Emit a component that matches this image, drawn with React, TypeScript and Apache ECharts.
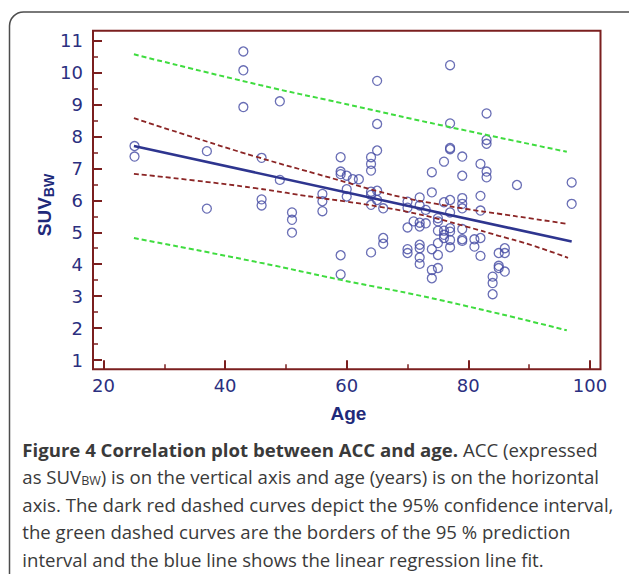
import React, { useEffect, useRef } from "react";
import * as echarts from "echarts";

// ---- data ----
const ages = [
  25.1, 25.1, 37, 37, 43, 43, 43, 46, 46, 46, 49, 49, 51, 51, 51, 56, 56, 56,
  59, 59, 59, 59, 59, 60, 60, 60, 61, 62,
  64, 64, 64, 64, 64, 64, 64, 65, 65, 65, 65, 65, 66, 66, 66,
  70, 70, 70, 70, 70, 71, 72, 72, 72, 72, 72, 72, 72, 72, 73, 73,
  74, 74, 74, 74, 74, 75, 75, 75, 75, 75, 75, 76, 76, 76, 76, 76,
  77, 77, 77, 77, 77, 77, 77, 77, 77, 77,
  79, 79, 79, 79, 79, 79, 79, 79, 81, 81, 82, 82, 82, 82, 82,
  83, 83, 83, 83, 83, 84, 84, 84, 85, 85, 85, 86, 86, 86, 88, 97, 97,
];
const suv = [
  7.7, 7.37, 7.54, 5.74, 10.66, 10.07, 8.92, 7.33, 6.03, 5.84, 9.1, 6.64, 5.62, 5.39, 4.99, 6.2, 5.97, 5.66,
  7.35, 6.9, 6.82, 4.28, 3.68, 6.77, 6.35, 6.12, 6.66, 6.66,
  7.35, 7.14, 6.93, 6.27, 6.17, 5.86, 4.37, 9.74, 8.39, 7.56, 6.3, 6.01, 5.75, 4.82, 4.64,
  5.96, 5.77, 5.15, 4.47, 4.35, 5.34, 6.09, 5.84, 5.3, 5.18, 4.61, 4.5, 4.21, 4.01, 5.7, 5.28,
  6.88, 6.25, 4.47, 3.82, 3.56, 5.44, 5.34, 5.05, 4.66, 4.29, 3.88, 7.21, 5.94, 5.05, 4.82, 4.92,
  10.23, 8.41, 7.64, 7.6, 6.01, 5.62, 5.13, 5.02, 4.76, 4.53,
  7.37, 6.77, 6.07, 5.89, 5.75, 5.1, 4.78, 4.73, 4.78, 4.55, 7.14, 6.14, 5.68, 4.82, 4.26,
  8.72, 7.89, 7.77, 6.9, 6.72, 3.61, 3.41, 3.06, 4.35, 3.95, 3.88, 4.5, 4.35, 3.77, 6.48, 6.56, 5.89,
];

const fitAges = [25, 97];
const fitValues = [7.7, 4.71];

const ciAges = [25, 35, 45, 55, 60, 65, 70, 75, 80, 85, 90, 96.4];
const ciUpper = [8.57, 7.96, 7.37, 6.83, 6.56, 6.29, 6.06, 5.88, 5.72, 5.58, 5.44, 5.26];
const ciLower = [6.83, 6.62, 6.38, 6.09, 5.96, 5.81, 5.64, 5.42, 5.16, 4.89, 4.62, 4.2];

const piAges = [25, 45.7, 59, 75.3, 96.2];
const piUpper = [10.57, 9.61, 9.05, 8.36, 7.52];
const piLower = [4.82, 4.05, 3.51, 2.88, 1.93];

const xMajor = [20, 40, 60, 80, 100];
const xMinor = [30, 50, 70, 90];
const yMajor = [1, 2, 3, 4, 5, 6, 7, 8, 9, 10, 11];
const yMinor = [1.5, 2.5, 3.5, 4.5, 5.5, 6.5, 7.5, 8.5, 9.5, 10.5];

const captionLines = [
  "{b|Figure 4 Correlation plot between ACC and age.} ACC (expressed",
  "as SUV{s|BW}) is on the vertical axis and age (years) is on the horizontal",
  "axis. The dark red dashed curves depict the 95% confidence interval,",
  "the green dashed curves are the borders of the 95 % prediction",
  "interval and the blue line shows the linear regression line fit.",
];

const AXIS = "#7b1f1f";
const LABEL = "#2b2f80";
const TITLE = "#1f2a7a";
const DOT = "#444aa2";
const BLUE = "#2e358f";
const RED = "#8b2525";
const GREEN = "#3fdc3f";

const pairs = (xs: number[], ys: number[]) => xs.map((x, i) => [x, ys[i]]);

export default function App() {
  const ref = useRef<HTMLDivElement>(null);
  useEffect(() => {
    if (!ref.current) return;
    const chart = echarts.init(ref.current, null, { renderer: "svg" });
    const xBase = { type: "value", min: 18.27, max: 101.74, gridIndex: 0, splitLine: { show: false }, axisLine: { show: false } };
    const yBase = { type: "value", min: 0.71, max: 11.31, gridIndex: 0, splitLine: { show: false }, axisLine: { show: false } };
    const labelStyle = { color: LABEL, fontSize: 18, fontFamily: "DejaVu Sans" };
    const captionRich = {
      b: { fontWeight: "bold", fontFamily: "Open Sans", fontSize: 18.6, color: "#262626" },
      s: { fontFamily: "Open Sans", fontSize: 12.5, color: "#3a3a3a", padding: [8, 0, 0, 0], verticalAlign: "bottom" },
    };
    chart.setOption({
      animation: false,
      grid: { left: 93, right: 28.5, top: 30.7, bottom: 204.7, show: true, borderColor: AXIS, borderWidth: 2, backgroundColor: "transparent" },
      xAxis: [
        {
          ...xBase,
          position: "bottom",
          axisTick: { show: true, inside: true, length: 9, customValues: xMajor, lineStyle: { color: AXIS, width: 2 } },
          axisLabel: { show: true, customValues: xMajor, margin: 7, ...labelStyle },
        },
        {
          ...xBase,
          position: "bottom",
          axisTick: { show: true, inside: true, length: 5, customValues: xMinor, lineStyle: { color: AXIS, width: 1.5 } },
          axisLabel: { show: false },
        },
      ],
      yAxis: [
        {
          ...yBase,
          position: "left",
          axisTick: { show: true, inside: true, length: 9, customValues: yMajor, lineStyle: { color: AXIS, width: 2 } },
          axisLabel: { show: true, customValues: yMajor, margin: 10, ...labelStyle },
        },
        {
          ...yBase,
          position: "left",
          axisTick: { show: true, inside: true, length: 5, customValues: yMinor, lineStyle: { color: AXIS, width: 1.5 } },
          axisLabel: { show: false },
        },
      ],
      series: [
        {
          type: "scatter",
          data: pairs(ages, suv),
          symbol: "circle",
          symbolSize: 9,
          itemStyle: { color: "transparent", borderColor: DOT, borderWidth: 1.3 },
          z: 2,
        },
        {
          type: "line", data: pairs(piAges, piUpper), smooth: true, showSymbol: false, z: 3,
          lineStyle: { color: GREEN, width: 2, type: [5, 3] },
        },
        {
          type: "line", data: pairs(piAges, piLower), smooth: true, showSymbol: false, z: 3,
          lineStyle: { color: GREEN, width: 2, type: [5, 3] },
        },
        {
          type: "line", data: pairs(ciAges, ciUpper), smooth: true, showSymbol: false, z: 3,
          lineStyle: { color: RED, width: 1.8, type: [5, 3] },
        },
        {
          type: "line", data: pairs(ciAges, ciLower), smooth: true, showSymbol: false, z: 3,
          lineStyle: { color: RED, width: 1.8, type: [5, 3] },
        },
        {
          type: "line", data: pairs(fitAges, fitValues), showSymbol: false, z: 4,
          lineStyle: { color: BLUE, width: 2.6 },
        },
      ],
      graphic: [
        {
          type: "rect",
          shape: { x: 9.5, y: 12, width: 680, height: 640, r: 14 },
          style: { fill: "none", stroke: "#4d4d4d", lineWidth: 1.5 },
          silent: true,
        },
        {
          type: "text",
          x: 348.5,
          y: 413,
          style: { text: "Age", fill: TITLE, font: "bold 19px 'Liberation Sans', Arial, sans-serif", textAlign: "center", textVerticalAlign: "middle" },
        },
        {
          type: "text",
          x: 44,
          y: 205,
          rotation: Math.PI / 2,
          style: {
            text: "{a|SUV}{b|BW}",
            textAlign: "center",
            textVerticalAlign: "middle",
            rich: {
              a: { fill: TITLE, fontWeight: "bold", fontSize: 19, fontFamily: "Liberation Sans" },
              b: { fill: TITLE, fontWeight: "bold", fontSize: 14, fontFamily: "Liberation Sans", padding: [9, 0, 0, 0], verticalAlign: "bottom" },
            },
          },
        },
        ...captionLines.map((t, i) => ({
          type: "text",
          x: 22.3,
          y: 449 + i * 27.5,
          style: {
            text: t,
            fill: "#3a3a3a",
            fontFamily: "Open Sans",
            fontSize: 18.6,
            textAlign: "left",
            textVerticalAlign: "middle",
            rich: captionRich,
          },
        })),
      ],
    });
    return () => chart.dispose();
  }, []);
  return (
    <div
      ref={ref}
      style={{ position: "fixed", left: 0, top: 0, width: 629, height: 574, background: "#fff" }}
    />
  );
}
